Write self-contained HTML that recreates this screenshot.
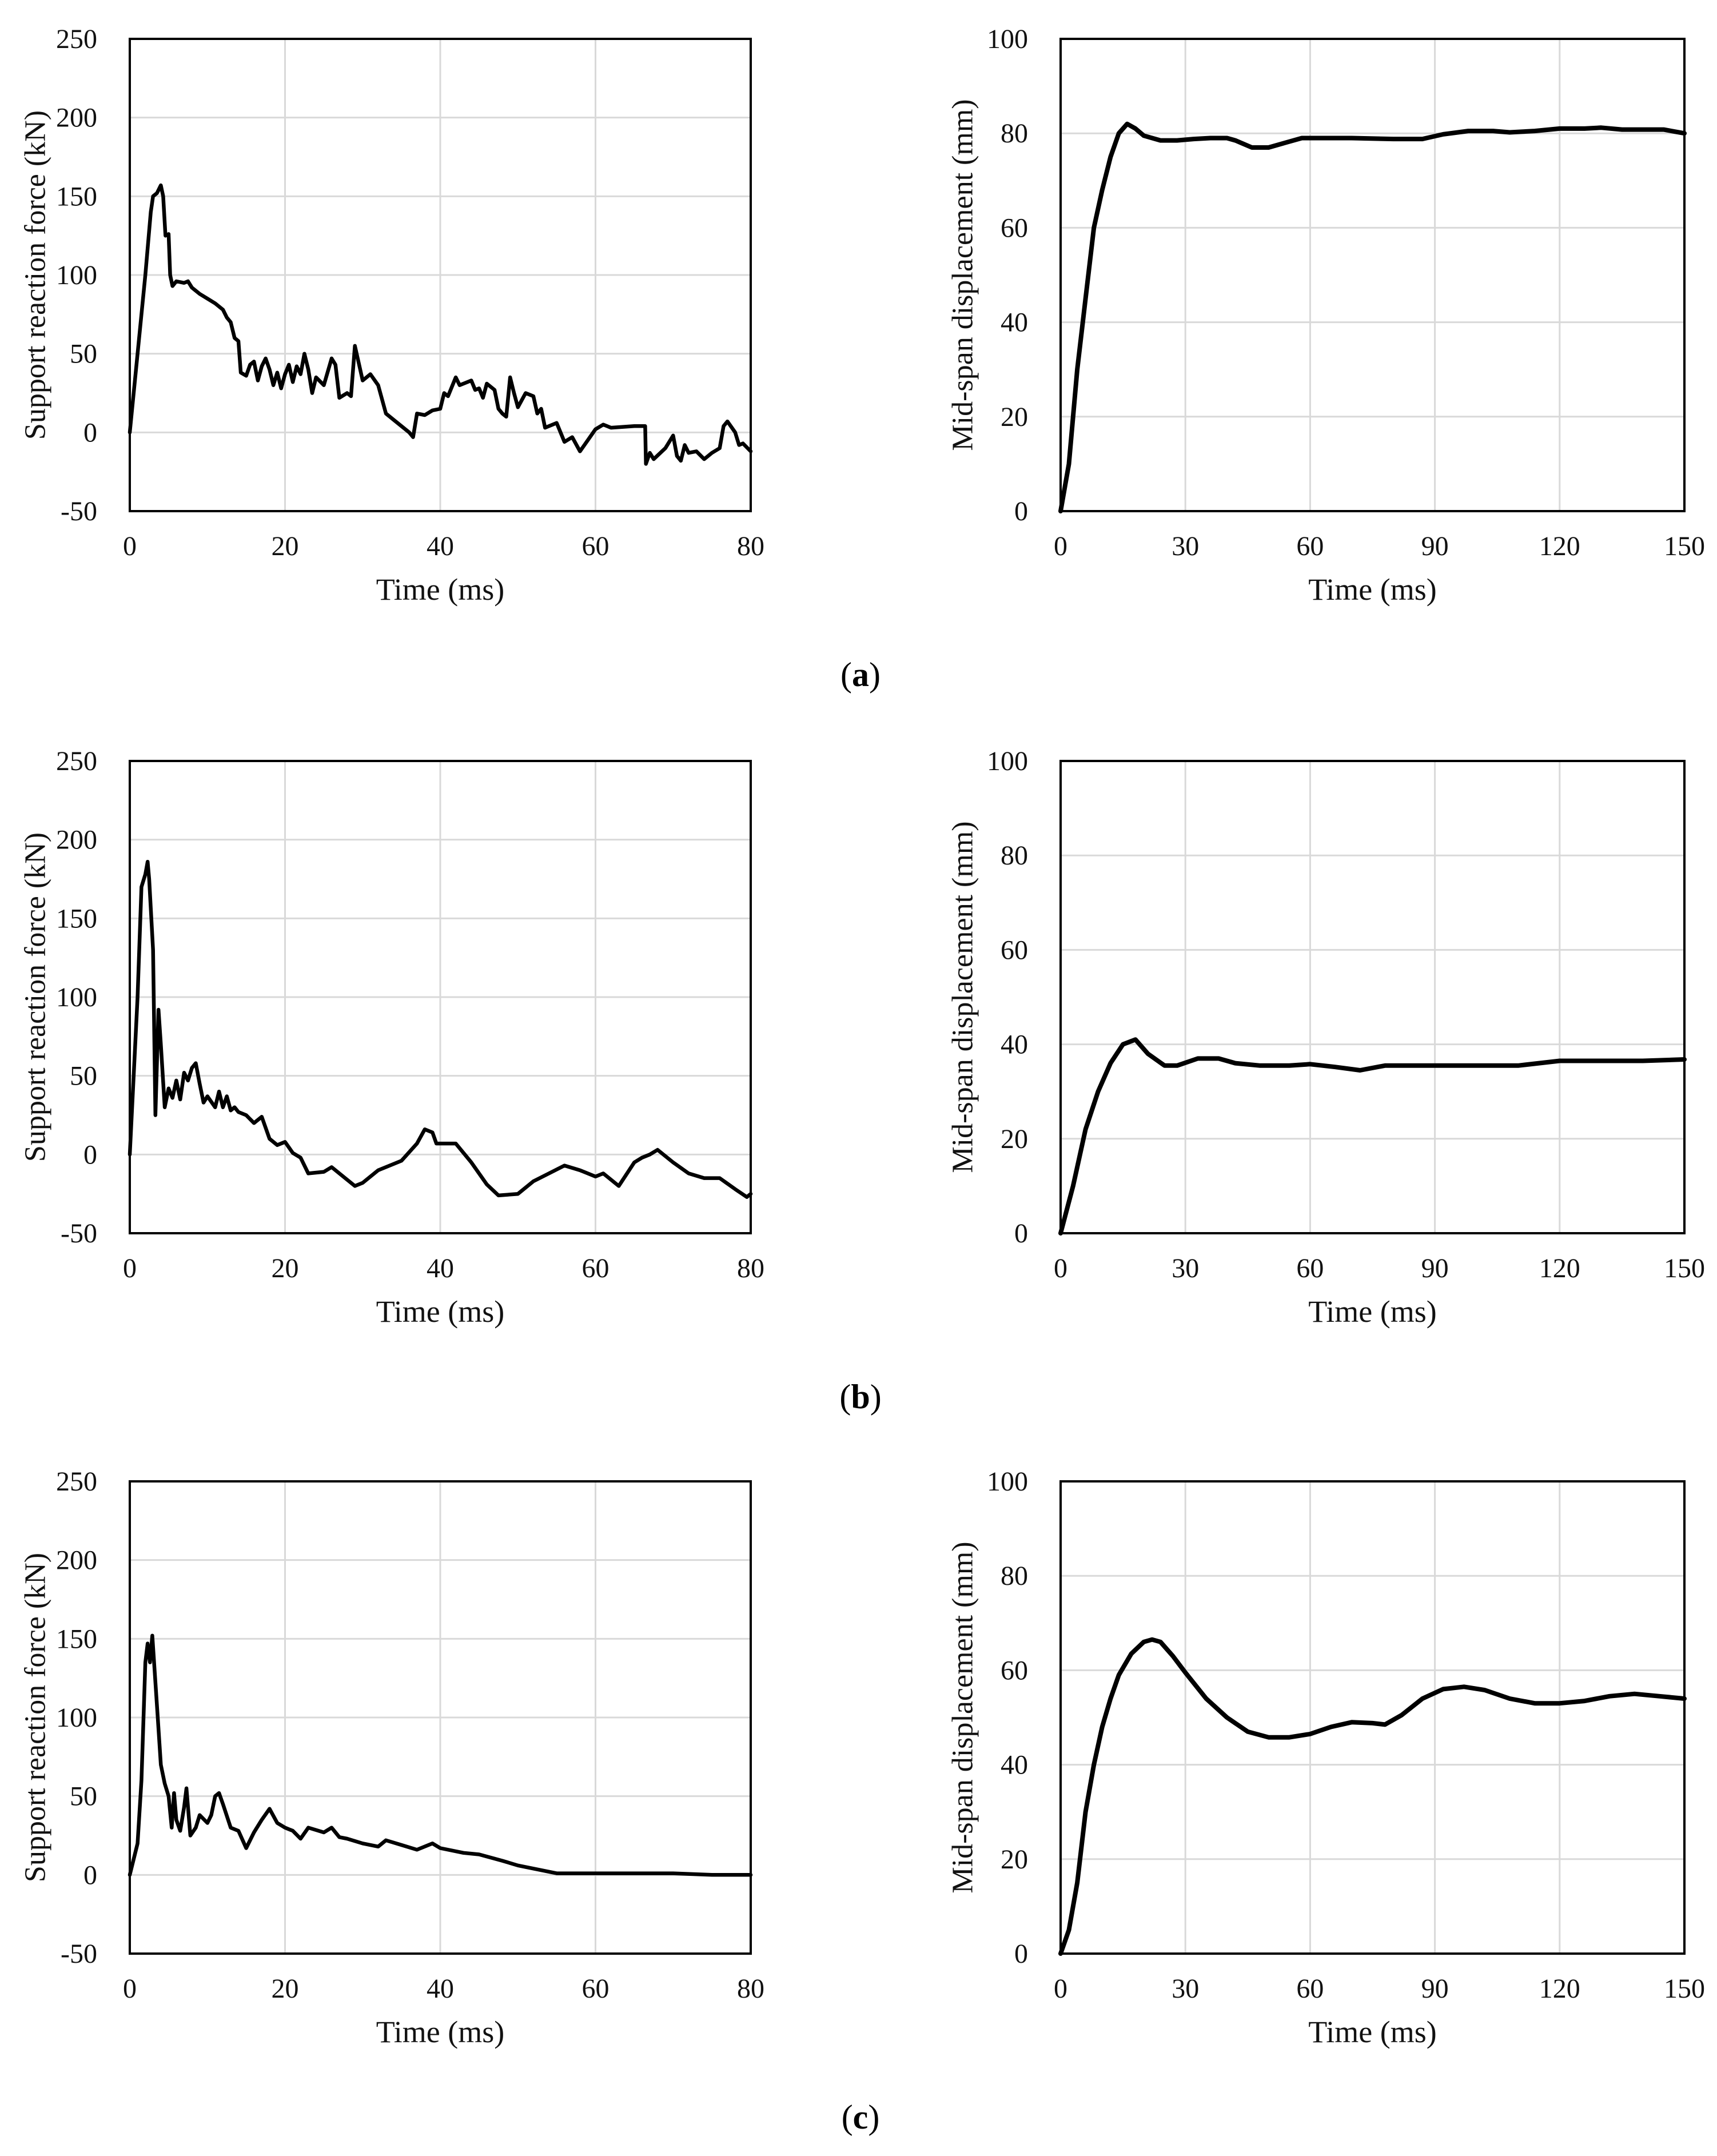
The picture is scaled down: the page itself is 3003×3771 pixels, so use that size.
<!DOCTYPE html>
<html><head><meta charset="utf-8"><style>
html,body{margin:0;padding:0;background:#fff;}
svg{display:block;font-family:"Liberation Serif",serif;}
</style></head>
<body>
<svg id="fig" width="3003" height="3771" viewBox="0 0 3003 3771" xmlns="http://www.w3.org/2000/svg"></svg>
<script>
// ---- data ----
const forceATime=[0,1,2,2.7,3,3.5,4,4.3,4.6,5,5.2,5.5,6,7,7.5,8,9,10,11,12,12.5,13,13.5,14,14.3,15,15.5,16,16.5,17,17.5,18,18.5,19,19.5,20,20.5,21,21.5,22,22.5,23,23.5,24,25,26,26.5,27,28,28.5,29,30,31,32,33,34,35,36,36.5,37,38,39,40,40.5,41,42,42.5,43,44,44.5,45,45.5,46,47,47.5,48,48.5,49,49.5,50,51,52,52.5,53,53.5,55,56,57,58,60,61,62,65,66.4,66.5,67,67.5,69,70,70.5,71,71.5,72,73,74,75,76,76.5,77,78,78.5,79,80];
const forceAVal=[0,50,100,140,150,152,157,150,125,126,100,93,96,95,96,92,88,85,82,78,73,70,60,58,38,36,43,45,33,42,47,40,30,38,28,37,43,32,42,37,50,40,25,35,30,47,43,22,25,23,55,33,37,30,12,8,4,0,-3,12,11,14,15,25,23,35,30,31,33,27,28,22,31,27,15,12,10,35,25,16,25,23,12,15,3,6,-6,-3,-12,2,5,3,4,4,-20,-13,-17,-10,-2,-15,-18,-8,-13,-12,-17,-13,-10,4,7,0,-8,-7,-12];
const forceBTime=[0,1,1.5,2,2.3,2.5,3,3.3,3.7,4,4.5,5,5.5,6,6.5,7,7.5,8,8.5,9,9.5,10,11,11.5,12,12.5,13,13.5,14,15,16,17,18,19,20,21,22,23,25,26,28,29,30,32,35,37,38,39,39.5,42,44,46,47.5,50,52,54,56,58,60,61,63,65,66,67,68,70,72,74,76,78,79.5,80];
const forceBVal=[0,100,170,178,186,175,130,25,92,70,30,42,36,47,35,52,47,55,58,45,33,37,30,40,30,37,28,30,27,25,20,24,10,6,8,1,-2,-12,-11,-8,-16,-20,-18,-10,-4,7,16,14,7,7,-5,-19,-26,-25,-17,-12,-7,-10,-14,-12,-20,-5,-2,0,3,-5,-12,-15,-15,-22,-27,-25];
const forceCTime=[0,1,1.5,2,2.3,2.6,2.9,3.2,3.6,4,4.5,5,5.4,5.7,6,6.5,7,7.3,7.8,8.5,9,10,10.5,11,11.5,12,13,14,15,16,17,18,19,20,21,22,23,25,26,27,28,30,32,33,35,37,39,40,43,45,48,50,53,55,60,70,75,80];
const forceCVal=[0,20,60,135,147,135,152,130,100,70,58,50,30,52,35,28,43,55,25,30,38,33,38,50,52,45,30,28,17,27,35,42,33,30,28,23,30,27,30,24,23,20,18,22,19,16,20,17,14,13,9,6,3,1,1,1,0,0];
const dispATime=[0,2,4,6,8,10,12,14,16,18,20,24,28,32,36,40,42,46,50,54,58,65,70,80,87,92,98,104,108,114,120,126,130,135,145,150];
const dispAVal=[0,10,30,45,60,68,75,80,82,81,79.5,78.5,78.5,78.8,79,79,78.5,77,77,78,79,79,79,78.8,78.8,79.8,80.5,80.5,80.2,80.5,81,81,81.2,80.8,80.8,80];
const dispBTime=[0,3,6,9,12,15,18,21,25,28,33,38,42,48,55,60,66,72,78,90,110,120,130,140,150];
const dispBVal=[0,10,22,30,36,40,41,38,35.5,35.5,37,37,36,35.5,35.5,35.8,35.2,34.5,35.5,35.5,35.5,36.5,36.5,36.5,36.8];
const dispCTime=[0,2,4,6,8,10,12,14,17,20,22,24,27,30,35,40,45,50,55,60,65,70,75,78,82,87,92,97,102,108,114,120,126,132,138,144,150];
const dispCVal=[0,5,15,30,40,48,54,59,63.5,66,66.5,66,63,59.5,54,50,47,45.8,45.8,46.5,48,49,48.8,48.5,50.5,54,56,56.5,55.8,54,53,53,53.5,54.5,55,54.5,54];
const forceTicksY=[-50,0,50,100,150,200,250];
const forceTicksX=[0,20,40,60,80];
const dispTicksY=[0,20,40,60,80,100];
const dispTicksX=[0,30,60,90,120,150];
const panelLabels=["a","b","c"];

const NS="http://www.w3.org/2000/svg";
const svg=document.getElementById('fig');
function mk(tag,attrs,parent){const e=document.createElementNS(NS,tag);for(const k in attrs)e.setAttribute(k,attrs[k]);(parent||svg).appendChild(e);return e;}

const rowTops=[68,1331,2591];
const H=826;
function chart(key,left,right,top,xmin,xmax,ymin,ymax,xt,yt,times,vals,ytitle,titleX,lw){
  const g=mk('g',{});
  
  
  const bottom=top+H;
  const sx=v=>left+(v-xmin)/(xmax-xmin)*(right-left);
  const sy=v=>bottom-(v-ymin)/(ymax-ymin)*H;
  xt.forEach(t=>{const x=sx(t);
    if(t>xmin&&t<xmax){const l=mk('line',{x1:x,x2:x,y1:top,y2:bottom,stroke:'#d9d9d9','stroke-width':3},g);
      
      }
    const tx=mk('text',{x:x,y:bottom+77,'font-size':48,'text-anchor':'middle',fill:'#111'},g);tx.textContent=t;
    
    
  });
  yt.forEach(t=>{const y=sy(t);
    if(t>ymin&&t<ymax){const l=mk('line',{x1:left,x2:right,y1:y,y2:y,stroke:'#d9d9d9','stroke-width':3},g);
      
      }
    const tx=mk('text',{x:left-57,y:y+16,'font-size':48,'text-anchor':'end',fill:'#111'},g);tx.textContent=t;
    
    
  });
  const fr=mk('rect',{x:left,y:top,width:right-left,height:H,fill:'none',stroke:'#000','stroke-width':4},g);
  
  
  const pts=times.map((t,i)=>sx(t).toFixed(1)+','+sy(vals[i]).toFixed(1)).join(' ');
  const pl=mk('polyline',{points:pts,fill:'none',stroke:'#000','stroke-width':lw,'stroke-linejoin':'round','stroke-linecap':'round'},g);
  
  
  const xtl=mk('text',{x:(left+right)/2,y:bottom+155,'font-size':54,'text-anchor':'middle',fill:'#111'},g);xtl.textContent='Time (ms)';
  
  
  const cy=(top+bottom)/2;
  const ytl=mk('text',{x:titleX,y:cy,'font-size':52,'text-anchor':'middle',fill:'#111',transform:'rotate(-90 '+titleX+' '+cy+')','dominant-baseline':'central'},g);ytl.textContent=ytitle;
  
  
}
const FT=[forceATime,forceBTime,forceCTime],FV=[forceAVal,forceBVal,forceCVal];
const DT=[dispATime,dispBTime,dispCTime],DV=[dispAVal,dispBVal,dispCVal];
for(let r=0;r<3;r++){
  const top=rowTops[r];
  chart('force-'+panelLabels[r],227,1313,top,0,80,-50,250,forceTicksX,forceTicksY,FT[r],FV[r],'Support reaction force (kN)',62,6.5);
  chart('displacement-'+panelLabels[r],1855,2946,top,0,150,0,100,dispTicksX,dispTicksY,DT[r],DV[r],'Mid-span displacement (mm)',1684,8);
  const lab=mk('text',{x:1505,y:top+H+306,'font-size':60,'text-anchor':'middle',fill:'#000'});
  
  
  lab.appendChild(document.createTextNode('('));
  const b=mk('tspan',{'font-weight':'bold'},lab);b.textContent=panelLabels[r];
  lab.appendChild(document.createTextNode(')'));
}
</script>
</body></html>
